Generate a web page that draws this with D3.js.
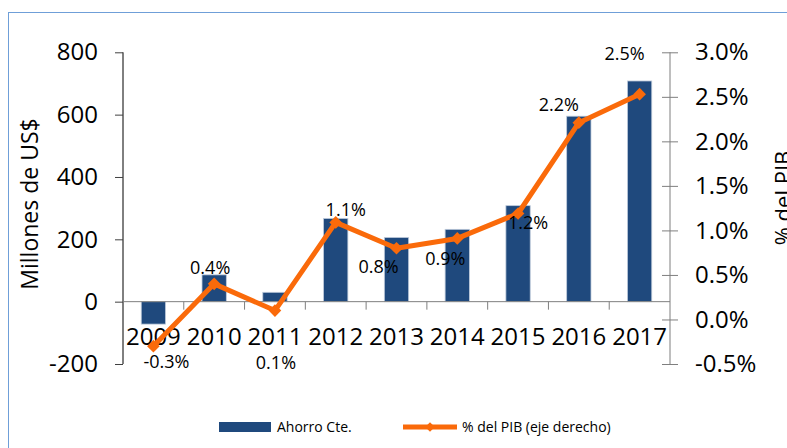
<!DOCTYPE html>
<html>
<head>
<meta charset="utf-8">
<script src="https://cdn.jsdelivr.net/npm/d3@7"></script>
<style>
  body { margin: 0; background: #fff; }
  svg { display: block; font-family: "Open Sans", sans-serif; }
</style>
</head>
<body>
<script>
// Ahorro corriente (millones US$) y % del PIB
const years = ['2009', '2010', '2011', '2012', '2013', '2014', '2015', '2016', '2017'];
const ahorro = [-72, 86, 30, 267, 206, 232, 308, 595, 708];
const pctPib = [-0.30, 0.40, 0.10, 1.09, 0.80, 0.91, 1.19, 2.21, 2.53];
const pctLabels = ['-0.3%', '0.4%', '0.1%', '1.1%', '0.8%', '0.9%', '1.2%', '2.2%', '2.5%'];
const leftTicks = [-200, 0, 200, 400, 600, 800];
const rightTicks = [-0.5, 0, 0.5, 1.0, 1.5, 2.0, 2.5, 3.0];

// where each data label sits relative to its point (dx, dy)
const labelOffset = [[13, 16], [-4, -16], [1, 52], [10, -13], [-18, 18], [-12, 20], [10, 9], [-20, -18], [-15, -40]];

const width = 787;
const height = 448;
const plot = {left: 123, right: 670, top: 52.3, bottom: 364};

const barColor = '#1f497d';
const lineColor = '#fa6a0a';

const svg = d3.select('body').append('svg')
    .attr('width', width)
    .attr('height', height);

// chart area border
svg.append('rect')
    .attr('x', 8.5).attr('y', 12.5)
    .attr('width', width + 20).attr('height', height + 20)
    .attr('fill', 'none')
    .attr('stroke', '#6f9fd8');

const x = d3.scaleBand()
    .domain(years)
    .range([plot.left, plot.right])
    .paddingInner(0.6)
    .paddingOuter(0.3);

const y = d3.scaleLinear()
    .domain([-200, 800])
    .range([plot.bottom, plot.top]);

const y2 = d3.scaleLinear()
    .domain([-0.5, 3.0])
    .range([plot.bottom, plot.top]);

// bars
svg.append('g')
    .selectAll('rect').data(years).enter().append('rect')
    .attr('x', d => x(d))
    .attr('y', (d, i) => y(Math.max(0, ahorro[i])))
    .attr('width', x.bandwidth())
    .attr('height', (d, i) => Math.abs(y(ahorro[i]) - y(0)))
    .attr('fill', barColor)
    .attr('stroke', '#bfcbdb')
    .attr('stroke-width', 0.8);

// left axis
svg.append('g')
    .attr('transform', `translate(${plot.left},0)`)
    .call(d3.axisLeft(y).tickValues(leftTicks).tickSize(8).tickPadding(17).tickFormat(d => String(d)))
    .call(g => g.select('.domain').attr('stroke', '#000').attr('d', `M0,${plot.top}V${plot.bottom}`))
    .call(g => g.selectAll('.tick line').attr('stroke', '#404040'))
    .call(g => g.selectAll('.tick text')
        .attr('font-family', '"Open Sans", sans-serif')
        .attr('font-size', 24)
        .attr('fill', '#000'));

// right axis, ticks crossing the line
svg.append('g')
    .attr('transform', `translate(${plot.right},0)`)
    .call(d3.axisRight(y2).tickValues(rightTicks).tickSize(8).tickPadding(17)
        .tickFormat(d => d.toFixed(1) + '%'))
    .call(g => g.select('.domain').attr('stroke', '#7f7f7f').attr('d', `M0,${plot.top}V${plot.bottom}`))
    .call(g => g.selectAll('.tick line').attr('stroke', '#7f7f7f').attr('x1', -8))
    .call(g => g.selectAll('.tick text')
        .attr('font-family', '"Open Sans", sans-serif')
        .attr('font-size', 24)
        .attr('fill', '#000'));

// category axis at zero
const step = x.step();
const catAxis = svg.append('g')
    .attr('transform', `translate(0,${y(0)})`);
catAxis.append('line')
    .attr('x1', plot.left).attr('x2', plot.right)
    .attr('stroke', '#7f7f7f');
catAxis.selectAll('line.sep').data(years.slice(1)).enter().append('line')
    .attr('class', 'sep')
    .attr('x1', d => x(d) - step * 0.3).attr('x2', d => x(d) - step * 0.3)
    .attr('y1', 0).attr('y2', 8)
    .attr('stroke', '#7f7f7f');
catAxis.selectAll('text').data(years).enter().append('text')
    .attr('x', d => x(d) + x.bandwidth() / 2)
    .attr('y', 43)
    .attr('text-anchor', 'middle')
    .attr('font-size', 24)
    .attr('fill', '#000')
    .text(d => d);

// % del PIB line
const cx = (d, i) => x(years[i]) + x.bandwidth() / 2;
const line = d3.line()
    .x((d, i) => cx(d, i))
    .y(d => y2(d));

svg.append('path')
    .datum(pctPib)
    .attr('d', line)
    .attr('fill', 'none')
    .attr('stroke', lineColor)
    .attr('stroke-width', 5)
    .attr('stroke-linejoin', 'round');

svg.append('g')
    .selectAll('path').data(pctPib).enter().append('path')
    .attr('d', d3.symbol(d3.symbolSquare, 80))
    .attr('transform', (d, i) => `translate(${cx(d, i)},${y2(d)}) rotate(45)`)
    .attr('fill', lineColor);

// data labels
svg.append('g')
    .selectAll('text').data(pctPib).enter().append('text')
    .attr('x', (d, i) => cx(d, i) + labelOffset[i][0])
    .attr('y', (d, i) => y2(d) + labelOffset[i][1])
    .attr('dy', '0.35em')
    .attr('text-anchor', 'middle')
    .attr('font-size', 18)
    .attr('fill', '#000')
    .text((d, i) => pctLabels[i]);

// axis titles
svg.append('text')
    .attr('transform', 'translate(38,204) rotate(-90)')
    .attr('text-anchor', 'middle')
    .attr('font-size', 23)
    .text('Millones de US$');

svg.append('text')
    .attr('transform', 'translate(791,198) rotate(-90)')
    .attr('text-anchor', 'middle')
    .attr('font-size', 22)
    .text('% del PIB');

// legend
const legend = svg.append('g').attr('font-size', 14);
legend.append('rect')
    .attr('x', 219).attr('y', 422)
    .attr('width', 52).attr('height', 10)
    .attr('fill', barColor);
legend.append('text')
    .attr('x', 277).attr('y', 427).attr('dy', '0.35em')
    .text('Ahorro Cte.');
legend.append('line')
    .attr('x1', 403).attr('x2', 457)
    .attr('y1', 427).attr('y2', 427)
    .attr('stroke', lineColor).attr('stroke-width', 5);
legend.append('path')
    .attr('d', d3.symbol(d3.symbolSquare, 45))
    .attr('transform', 'translate(430,427) rotate(45)')
    .attr('fill', lineColor);
legend.append('text')
    .attr('x', 462).attr('y', 427).attr('dy', '0.35em')
    .text('% del PIB (eje derecho)');
</script>
</body>
</html>
